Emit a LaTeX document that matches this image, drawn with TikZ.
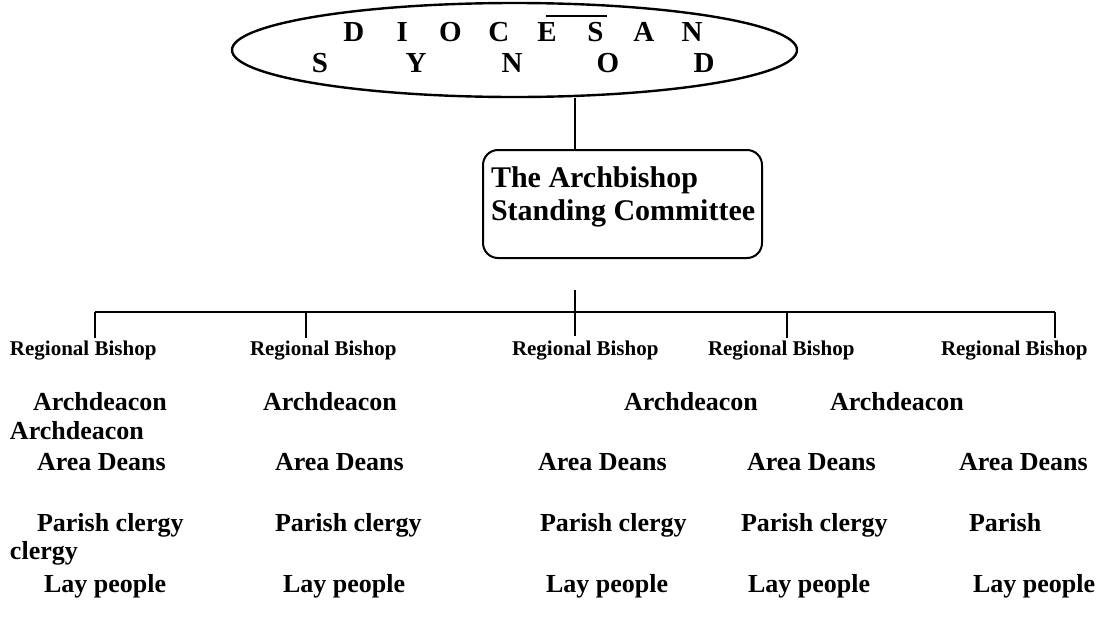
\documentclass[tikz,border=0pt]{standalone}
\usepackage{fontspec}
\setmainfont{Liberation Serif}
\usetikzlibrary{positioning,shapes.geometric}

\begin{document}
\begin{tikzpicture}[
  x=0.5pt,y=-0.5pt,
  line width=1pt,
  synodshape/.style={
    ellipse,draw,line width=1.2pt,minimum width=282.5pt,minimum height=47pt,inner sep=0pt
  },
  headbox/.style={
    draw,rounded corners=7.5pt,minimum width=139.5pt,minimum height=54pt,inner sep=0pt
  },
  spaced/.style={font=\fontsize{14.5}{16}\selectfont\bfseries,anchor=base,inner sep=0pt},
  headtext/.style={font=\fontsize{15}{16}\selectfont\bfseries,anchor=base west,align=left,inner sep=0pt},
  bishop/.style={font=\fontsize{10.5}{12}\selectfont\bfseries,anchor=base west,inner sep=0pt},
  rank/.style={font=\fontsize{13}{15}\selectfont\bfseries,anchor=base west,inner sep=0pt}
]
\useasboundingbox (0,0) rectangle (1103,627);

% ---- synod ellipse ----
\node[synodshape] (synod) at (514.5,50) {};
\node[spaced] (dioc) at (523,41) {%
  \makebox[24.15pt]{D}\makebox[24.15pt]{I}\makebox[24.15pt]{O}\makebox[24.15pt]{C}%
  \makebox[24.15pt]{E}\makebox[24.15pt]{S}\makebox[24.15pt]{A}\makebox[24.15pt]{N}};
\node[spaced] (syn) at (512,72) {%
  \makebox[48pt]{S}\makebox[48pt]{Y}\makebox[48pt]{N}\makebox[48pt]{O}\makebox[48pt]{D}};
\draw (546,16) -- (607,16);

% ---- archbishop box ----
\node[headbox] (head) at (622.5,204) {};
\node[headtext] (headtxt) at (490,220) {The Archbishop\\[0.5pt]Standing Committee};

% ---- bus and drops ----
\coordinate (bus) at (575,312);
\coordinate (hub) at (575,290);
\coordinate (hubend) at (575,336);
\draw (hub |- synod.south) -- (hub |- head.north);
\draw (hub) -- (hubend);
\foreach \x [count=\i] in {95,306,787,1055} {
  \coordinate (top\i) at (\x,312);
  \coordinate (drop\i) at (\x,338);
  \draw (top\i) -- (drop\i);
}
\draw (top1) -- (top4);

% ---- regional rows ----
\foreach \x [count=\i] in {9,249,511,707,940}
  \node[bishop] (rb\i) at (\x,355) {Regional Bishop};

\foreach \x [count=\i] in {32,262,623,829}
  \node[rank] (ad\i) at (\x,410) {Archdeacon};
\node[rank] (ad5) at (9,439) {Archdeacon};

\foreach \x [count=\i] in {36,274,537,746,958}
  \node[rank] (dean\i) at (\x,470) {Area Deans};

\foreach \x [count=\i] in {36,274,539,740}
  \node[rank] (pc\i) at (\x,531) {Parish clergy};
\node[rank] (pc5) at (968,531) {Parish};
\node[rank] (pc5b) at (9,559) {clergy};

\foreach \x [count=\i] in {43,282,545,747,972}
  \node[rank] (lay\i) at (\x,592) {Lay people};

\end{tikzpicture}
\end{document}
